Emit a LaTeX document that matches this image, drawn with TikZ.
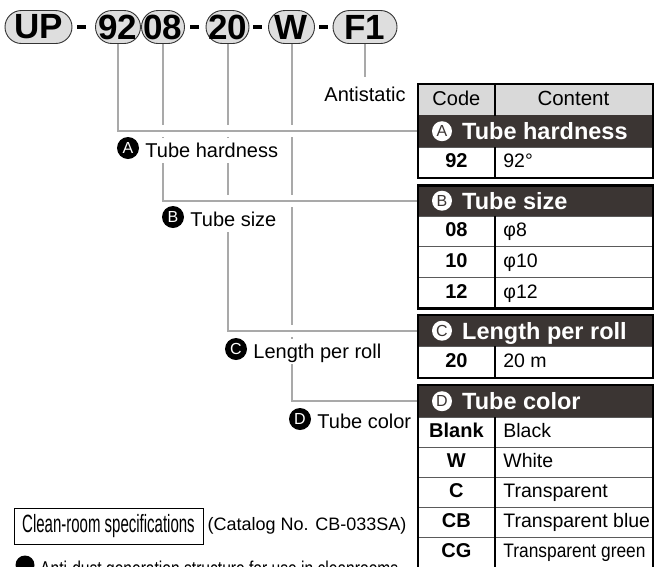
\documentclass[tikz,border=0pt]{standalone}
\usepackage{fontspec}
\usepackage{graphicx}
\setmainfont{Liberation Sans}
\usetikzlibrary{calc}
\definecolor{conngray}{HTML}{A9A9A9}
\definecolor{banddark}{HTML}{3B3533}
\definecolor{hdrgray}{HTML}{D9D9D9}
\definecolor{ovalfill}{HTML}{DEDEDE}
\definecolor{rowline}{HTML}{5A5A5A}
\newcommand\fsz[1]{\fontsize{#1}{#1}\selectfont}
\newcommand\ctx[1]{\makebox[140pt][l]{#1}}
\begin{document}
\begin{tikzpicture}[x=1pt,y=-1pt,
 oval/.style={draw=black!80, line width=0.9pt, fill=ovalfill, rounded corners=16.5pt, minimum height=33pt, inner sep=0pt, font=\fsz{35}\bfseries},
 dashbar/.style={fill=black, minimum width=9pt, minimum height=4.5pt, inner sep=0pt},
 conn/.style={draw=conngray, line width=2pt},
 halo/.style={draw=white, line width=12pt},
 lbltxt/.style={fill=white, anchor=base west, inner xsep=2pt, inner ysep=4.5pt, text height=15pt, text depth=1pt, font=\fsz{20}},
 lblcirc/.style={circle, fill=black, text=white, minimum size=22pt, inner sep=0pt, font=\fsz{16}},
 bandbox/.style={fill=banddark, minimum width=234pt, inner sep=0pt, anchor=north west},
 bandcirc/.style={circle, fill=white, text=banddark, minimum size=20pt, inner sep=0pt, font=\fsz{16}},
 bandtxt/.style={anchor=base west, inner sep=0pt, text=white, font=\fsz{23.5}\bfseries},
 codecell/.style={draw=rowline, line width=0.8pt, minimum width=76pt, inner sep=0pt, anchor=north west, text height=14pt, text depth=3pt, font=\fsz{20}\bfseries},
 contcell/.style={draw=rowline, line width=0.8pt, minimum width=158pt, inner xsep=9pt, inner ysep=0pt, anchor=north west, text height=14pt, text depth=3pt, font=\fsz{19.5}},
 tabborder/.style={draw=black, line width=2.2pt},
 divider/.style={draw=black, line width=1.4pt}
]
\useasboundingbox (0,0) rectangle (664,566);

% ---- code ovals ----
\node[oval, minimum width=67pt] (nUP) at (38.5,27) {UP};
\node[dashbar] (d1) at (81,27) {};
\node[oval, minimum width=45pt] (n92) at (118,27) {92};
\node[oval, minimum width=43pt] (n08) at (163,27) {08};
\node[dashbar] (d2) at (194.5,27) {};
\node[oval, minimum width=43pt] (n20) at (227.5,27) {20};
\node[dashbar] (d3) at (257.5,27) {};
\node[oval, minimum width=46pt] (nW) at (291.5,27) {W};
\node[dashbar] (d4) at (323,27) {};
\node[oval, minimum width=64pt] (nF1) at (365,27) {F1};

\node[anchor=base, inner sep=0pt, font=\fsz{20}] (anti) at (365,101) {Antistatic};
\draw[conn] (nF1.south) -- ([yshift=9.5pt]anti.north);

% ---- table cells ----
% group A
\node[codecell, minimum height=31pt, fill=hdrgray, font=\fsz{20}] (hk) at (418,84) {Code};
\node[contcell, minimum height=31pt, fill=hdrgray, font=\fsz{20.5}] (hv) at (494,84) {\makebox[140pt][c]{Content}};
\node[bandbox, minimum height=32pt] (bandA) at (418,115) {};
\node[codecell, minimum height=30pt] (k92) at (418,147) {92};
\node[contcell, minimum height=30pt] (v92) at (494,147) {\ctx{92°}};
% group B
\node[bandbox, minimum height=30pt] (bandB) at (418,185.5) {};
\node[codecell, minimum height=30.7pt] (k08) at (418,215.5) {08};
\node[contcell, minimum height=30.7pt] (v08) at (494,215.5) {\ctx{φ8}};
\node[codecell, minimum height=30.7pt] (k10) at (418,246.2) {10};
\node[contcell, minimum height=30.7pt] (v10) at (494,246.2) {\ctx{φ10}};
\node[codecell, minimum height=30.7pt] (k12) at (418,276.9) {12};
\node[contcell, minimum height=30.7pt] (v12) at (494,276.9) {\ctx{φ12}};
% group C
\node[bandbox, minimum height=31pt] (bandC) at (418,315) {};
\node[codecell, minimum height=31pt] (k20) at (418,346) {20};
\node[contcell, minimum height=31pt] (v20) at (494,346) {\ctx{20 m}};
% group D
\node[bandbox, minimum height=32pt] (bandD) at (418,385) {};
\node[codecell, minimum height=30pt] (kBl) at (418,417) {Blank};
\node[contcell, minimum height=30pt] (vBl) at (494,417) {\ctx{Black}};
\node[codecell, minimum height=30pt] (kW) at (418,447) {W};
\node[contcell, minimum height=30pt] (vW) at (494,447) {\ctx{White}};
\node[codecell, minimum height=30pt] (kC) at (418,477) {C};
\node[contcell, minimum height=30pt] (vC) at (494,477) {\ctx{Transparent}};
\node[codecell, minimum height=30pt] (kCB) at (418,507) {CB};
\node[contcell, minimum height=30pt] (vCB) at (494,507) {\ctx{Transparent blue}};
\node[codecell, minimum height=30pt] (kCG) at (418,537) {CG};
\node[contcell, minimum height=30pt] (vCG) at (494,537) {\ctx{\scalebox{0.89}[1]{Transparent green}}};

% band contents
\node[bandcirc] (cA) at ($(bandA.west)+(24,0)$) {A};
\node[bandtxt] (tA) at ($(bandA.west)+(44,8.5)$) {Tube hardness};
\node[bandcirc] (cB) at ($(bandB.west)+(24,0)$) {B};
\node[bandtxt] (tB) at ($(bandB.west)+(44,8.5)$) {Tube size};
\node[bandcirc] (cC) at ($(bandC.west)+(24,0)$) {C};
\node[bandtxt] (tC) at ($(bandC.west)+(44,8.5)$) {Length per roll};
\node[bandcirc] (cD) at ($(bandD.west)+(24,0)$) {D};
\node[bandtxt] (tD) at ($(bandD.west)+(44,8.5)$) {Tube color};

% ---- connectors (with white bridges) ----
\draw[conn] (nW.south) |- (bandD.west);
\draw[halo] ($(n20.south |- bandC.west)+(3,0)$) -- (bandC.west);
\draw[conn] (n20.south) |- (bandC.west);
\draw[halo] ($(n08.south |- bandB.west)+(3,0)$) -- (bandB.west);
\draw[conn] (n08.south) |- (bandB.west);
\draw[halo] ($(n92.south |- bandA.west)+(3,0)$) -- (bandA.west);
\draw[conn] (n92.south) |- (bandA.west);

% ---- labels ----
\node[lblcirc] (lA) at (128,148) {A};
\node[lbltxt] (lAt) at ($(lA.east)+(4,9)$) {Tube hardness};
\node[lblcirc] (lB) at (173,217) {B};
\node[lbltxt] (lBt) at ($(lB.east)+(4,9)$) {Tube size};
\node[lblcirc] (lC) at (236,349) {C};
\node[lbltxt] (lCt) at ($(lC.east)+(4,9)$) {Length per roll};
\node[lblcirc] (lD) at (300,419) {D};
\node[lbltxt] (lDt) at ($(lD.east)+(4,9)$) {Tube color};

% ---- table borders ----
\draw[divider] (hk.north east) -- (hk.south east);
\draw[divider] (k92.north east) -- (k92.south east);
\draw[divider] (k08.north east) -- (k12.south east);
\draw[divider] (k20.north east) -- (k20.south east);
\draw[divider] (kBl.north east) -- (kCG.south east);
\draw[tabborder] (hk.north west) rectangle (v92.south east);
\draw[tabborder] (bandB.north west) rectangle (v12.south east);
\draw[tabborder] (bandC.north west) rectangle (v20.south east);
\draw[tabborder] (bandD.north west) rectangle (vCG.south east);

% ---- bottom notes ----
\node[draw=black, line width=0.9pt, minimum width=189pt, minimum height=36pt, inner sep=0pt, font=\fsz{25}] (clean) at (108.5,526) {\scalebox{0.6}[1]{Clean-room specifications}};
\node[anchor=west, inner sep=0pt, font=\fsz{18}] (catalog) at ($(clean.east)+(4,0)$) {(Catalog No. CB-033SA)};
\node[circle, fill=black, minimum size=19pt, inner sep=0pt] (bdot) at (25,565) {};
\node[anchor=base west, inner sep=0pt, font=\fsz{20}] (btxt) at (40,575) {\scalebox{0.78}[1]{Anti-dust generation structure for use in cleanrooms}};
\end{tikzpicture}
\end{document}
